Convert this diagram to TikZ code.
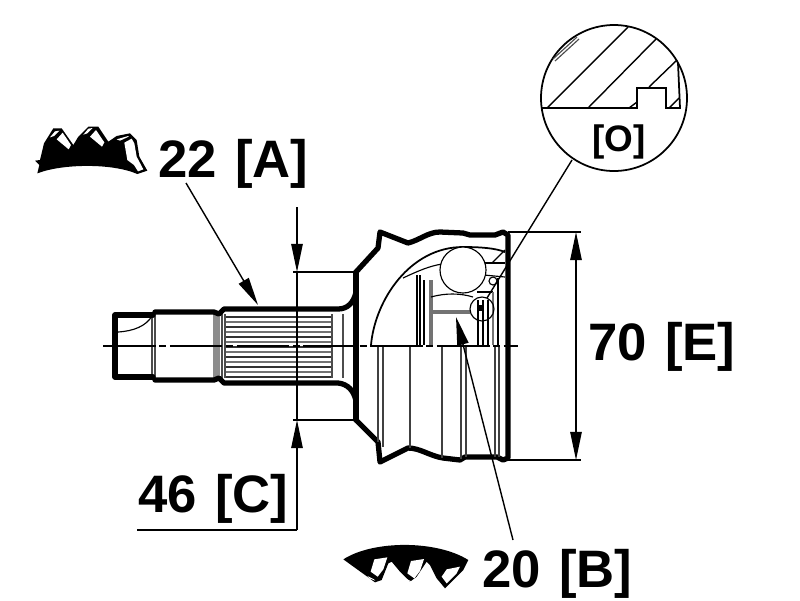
\documentclass[tikz,border=0pt]{standalone}
\usepackage{fontspec}
\setmainfont[WordSpace=1.25]{Liberation Sans}
\usetikzlibrary{arrows.meta}
\tikzset{
	heavy/.style={line width=3pt,line join=round,line cap=round},
	medium/.style={line width=1pt,line join=round},
	thin line/.style={line width=0.65pt},
	soft/.style={line width=1.3pt,black!55},
	dimline/.style={line width=0.8pt},
	tipped/.style={-{Triangle[length=16pt,width=6.5pt]},line width=0.8pt},
	size label/.style={font=\fontsize{30}{30}\selectfont\bfseries,anchor=base west,inner sep=0pt},
}
\begin{document}
\begin{tikzpicture}[x=0.02cm,y=-0.02cm]
\useasboundingbox (0,0) rectangle (800,600);
\coordinate (shaftTop) at (297,272);
\coordinate (shaftBot) at (297,420);
\coordinate (bellTop) at (576,232);
\coordinate (bellBot) at (576,460);
\coordinate (dimStart) at (297,207);
\coordinate (dimFoot) at (297,530);
\coordinate (dimEnd) at (137,530);
\coordinate (splineTip) at (258,305);
\coordinate (splineEnd) at (186,183);
\coordinate (cageTip) at (456,317);
\coordinate (cageEnd) at (513,540);
\coordinate (lens) at (614,98);
\coordinate (spot) at (482,309);
\coordinate (lensFoot) at (572,160);
\coordinate (spotTop) at (487,298);
% shaft
\fill[black!45] (213,314) rectangle (220,378);
\foreach \y in {317,327,337,347,357,367,377}
	\draw[medium,black!80] (225,\y) -- (331,\y);
\foreach \y in {322,332,342,352,362,372}
	\draw[soft] (225,\y) -- (331,\y);
\foreach \x in {152,155,222,225,332,343}
	\draw[thin line,black!70] (\x,314) -- (\x,378);
\draw[thin line] (118,332) .. controls (134,331) and (146,326) .. (152,316);
\draw[heavy] (153,315) -- (115,315) -- (115,377) -- (153,377);
\draw[heavy] (155,312) -- (214,312) -- (219,314) -- (224,309) -- (338,309) .. controls (348,309) and (354,302) .. (356,292);
\draw[heavy] (155,380) -- (214,380) -- (219,378) -- (224,383) -- (338,383) .. controls (348,384) and (354,391) .. (356,401);
\draw[heavy] (356,272) -- (356,420);
% bell
\draw[heavy] (356,272) -- (378,248) -- (380,232) -- (408,243) .. controls (420,240) and (428,232) .. (440,232) -- (463,233) -- (470,235) -- (495,235) -- (503,232) -- (508,235) -- (508,458) -- (503,460) -- (497,457) -- (465,457) -- (460,460) -- (443,458) .. controls (430,456) and (420,448) .. (408,448) -- (380,462) -- (378,442) -- (356,420);
\draw[medium] (371,345) .. controls (375,300) and (410,247) .. (463,247) .. controls (480,247) and (495,248) .. (505,252);
\draw[thin line] (403,278) .. controls (420,270) and (430,266) .. (442,264);
\draw[thin line] (484,263) -- (505,263);
\draw[thin line] (484,275) -- (505,277);
\draw[thin line] (492,263) -- (505,250);
\draw[thin line] (498,278) -- (498,345);
\filldraw[thin line,fill=white] (463,270) circle (23);
\draw[thin line] (493,281) circle (4);
\draw[thin line] (417,275) -- (417,345);
\draw[thin line] (420,275) -- (420,345);
\draw[thin line] (424,280) -- (424,345);
\draw[soft,line width=2.4pt] (431,280) -- (431,345);
\draw[thin line] (431,297) .. controls (445,293) and (460,293) .. (473,297);
\draw[soft,line width=2.2pt] (431,312) -- (470,312);
\draw[thin line] (477,292) -- (493,292);
\foreach \x in {478,483,488}
	\draw[thin line] (\x,300) -- (\x,345);
\draw[soft] (493,292) -- (493,345);
\draw[thin line] (spot) circle (12);
\fill (478,305) rectangle (484,311);
\foreach \x/\y in {378/442,383/447,410/448,442/458,461/459,466/457,495/457,499/457}
	\draw[medium,black!75] (\x,345) -- (\x,\y);
\draw[dash pattern=on 30pt off 2pt on 4pt off 2pt,line width=0.8pt] (103,346) -- (518,346);
% dimensions
\draw[thin line] (293,272) -- (356,272);
\draw[thin line] (293,420) -- (356,420);
\draw[thin line] (508,232) -- (581,232);
\draw[thin line] (508,460) -- (581,460);
\draw[tipped] (dimStart) -- (shaftTop);
\draw[dimline] (shaftTop) -- (shaftBot);
\draw[tipped] (dimFoot) -- (shaftBot);
\draw[dimline] (dimFoot) -- (dimEnd);
\draw[tipped] (576,346) -- (bellTop);
\draw[tipped] (576,346) -- (bellBot);
\draw[tipped] (splineEnd) -- (splineTip);
\draw[tipped] (cageEnd) -- (cageTip);
\draw[dimline] (lensFoot) -- (spotTop);
% detail circle
\filldraw[line width=1pt,fill=white] (lens) circle (73);
\draw[line width=1pt] (542,108) -- (637,108) -- (637,88) -- (666,88) -- (666,108) -- (680,108) -- (678,63);
\draw[dimline] (547,108) -- (628,27);
\draw[dimline] (588,108) -- (656,39);
\draw[dimline] (649,87) -- (677,60);
\draw[dimline] (629,108) -- (637,102);
\draw[dimline] (669,108) -- (679,98);
\draw[thin line,black!70] (553,59) -- (577,37);
\draw[thin line,black!70] (555,61) -- (579,39);
\node[font=\fontsize{21}{21}\selectfont\bfseries,inner sep=0pt] (detailText) at (619,142) {[O]};
% tooth profiles
\begin{scope}[shift={(20,110)},scale=1/3]
\fill (45,152) -- (60,150) -- (72,100) -- (100,55) -- (125,55) -- (160,105) -- (175,80) -- (205,50) -- (235,50) -- (265,95) -- (290,78) -- (330,70) -- (350,90) -- (358,140) -- (382,182) -- (352,192) .. controls (280,160) and (130,160) .. (52,190) -- (58,165) -- cycle;
\foreach \s/\t in {0/0,100/-8}
	\fill[white,shift={(\s,\t)}] (110,88) -- (128,68) -- (153,105) -- (146,118) -- cycle (90,82) -- (105,64) -- (118,62) -- (102,78) -- cycle;
\fill[white] (313,98) -- (335,86) -- (343,100) -- (350,140) -- (370,178) -- (354,184) -- (342,165) -- (322,150) -- cycle (290,88) -- (325,78) -- (326,80) -- (300,92) -- cycle;
\end{scope}
\begin{scope}[shift={(330,530)},scale=1/3]
\fill (40,88) .. controls (130,30) and (320,30) .. (415,90) -- (400,120) -- (360,160) -- (345,175) -- (320,145) -- (300,105) -- (290,95) -- (260,140) -- (240,155) -- (210,125) -- (185,95) -- (175,100) -- (155,150) -- (135,157) -- (105,135) -- cycle;
\foreach \s/\t in {0/0,110/5}
	\fill[white,shift={(\s,\t)}] (133,88) -- (172,82) -- (160,118) -- (143,140) -- (122,125) -- cycle (112,138) -- (132,148) -- (136,152) -- (118,145) -- cycle;
\fill[white] (350,118) -- (390,110) -- (380,130) -- (350,160) -- (335,140) -- cycle;
\end{scope}
% sizes
\node[size label] (sizeA) at (158,177) {22 [A]};
\node[size label] (sizeE) at (588,360) {70 [E]};
\node[size label] (sizeC) at (138,512) {46 [C]};
\node[size label] (sizeB) at (482,587) {20 [B]};
\end{tikzpicture}
\end{document}
